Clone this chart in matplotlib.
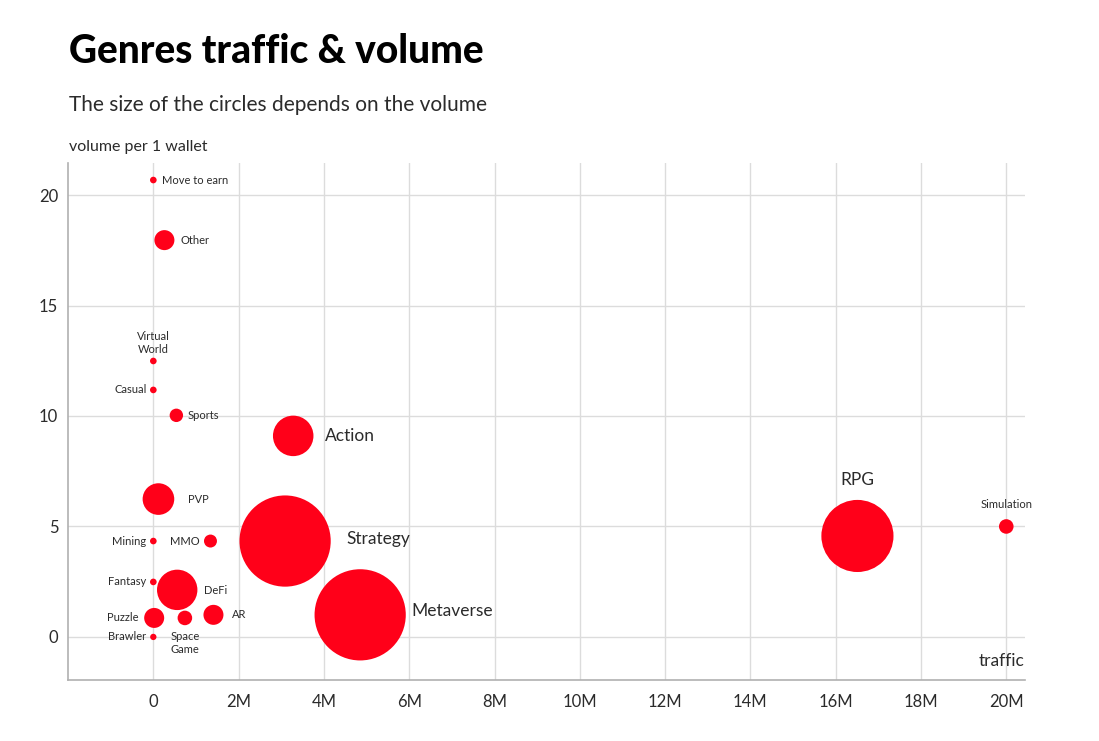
import matplotlib
matplotlib.use("Agg")
import matplotlib.pyplot as plt
from matplotlib.ticker import FuncFormatter

plt.rcParams['font.family'] = ['Lato', 'DejaVu Sans']

# genre data: traffic (wallets), volume per 1 wallet, relative total volume (bubble area)
genres = ["Move to earn", "Other", "Virtual\nWorld", "Casual", "Sports", "Action",
          "PVP", "Mining", "MMO", "Strategy", "Fantasy", "DeFi", "Puzzle",
          "Space\nGame", "AR", "Brawler", "Metaverse", "RPG", "Simulation"]
traffic = [0.0, 0.26e6, 0.0, 0.0, 0.54e6, 3.28e6,
           0.12e6, 0.0, 1.34e6, 3.09e6, 0.0, 0.56e6, 0.02e6,
           0.74e6, 1.41e6, 0.0, 4.85e6, 16.51e6, 20.0e6]
vol_per_wallet = [20.68, 17.96, 12.49, 11.18, 10.03, 9.1,
                  6.24, 4.34, 4.34, 4.34, 2.49, 2.13, 0.86,
                  0.86, 1.0, 0.0, 1.0, 4.57, 5.0]
volume = [1.1, 10.0, 1.1, 1.1, 4.5, 41.0,
          25.0, 1.1, 4.2, 208.0, 1.1, 40.8, 10.0,
          5.3, 10.0, 1.0, 208.0, 130.0, 5.3]

# label placement: offset in points, alignment, size
label_style = {
    "Move to earn": ((6.5, 0), "left", 8),
    "Other": ((11.5, 0), "left", 8),
    "Virtual\nWorld": ((0, 13), "center", 8),
    "Casual": ((-4.5, 0), "right", 8),
    "Sports": ((8, 0), "left", 8),
    "Action": ((23, 0), "left", 12.5),
    "PVP": ((21.5, 0), "left", 8),
    "Mining": ((-5, 0), "right", 8),
    "MMO": ((-8, 0), "right", 8),
    "Strategy": ((44, 1.5), "left", 12.5),
    "Fantasy": ((-5, 0), "right", 8),
    "DeFi": ((19, -0.5), "left", 8),
    "Puzzle": ((-11.5, 0), "right", 8),
    "Space\nGame": ((-10.5, -18), "left", 8),
    "AR": ((13, 0), "left", 8),
    "Brawler": ((-5, 0), "right", 8),
    "Metaverse": ((37, 3), "left", 12.5),
    "RPG": ((0, 40), "center", 12.5),
    "Simulation": ((0, 16), "center", 8),
}

red = "#ff0019"
ink = "#2b2b2b"
fig = plt.figure(figsize=(10.99, 7.41), dpi=100)
ax = fig.add_axes([0.0619, 0.0823, 0.8708, 0.6977])

sizes = [v * 20.74 for v in volume]
ax.scatter(traffic, vol_per_wallet, s=sizes, color=red, edgecolors="none", zorder=3)

for name, x, y in zip(genres, traffic, vol_per_wallet):
    off, ha, fs = label_style[name]
    ax.annotate(name, (x, y), xytext=off, textcoords="offset points",
                ha=ha, va="center", fontsize=fs, color=ink,
                linespacing=1.15, zorder=4)

ax.set_xlim(-2.0e6, 20.44e6)
ax.set_ylim(-1.95, 21.45)
ax.set_xticks([i * 2e6 for i in range(11)])
ax.set_yticks([0, 5, 10, 15, 20])
ax.xaxis.set_major_formatter(FuncFormatter(lambda v, p: "0" if v == 0 else f"{v/1e6:.0f}M"))
ax.grid(True, color="#dcdcdc", linewidth=1, zorder=0)
ax.tick_params(length=0, labelsize=12, colors=ink)
ax.tick_params(axis="x", pad=10)
ax.tick_params(axis="y", pad=7)
for side in ["top", "right"]:
    ax.spines[side].set_visible(False)
for side in ["left", "bottom"]:
    ax.spines[side].set_color("#b0b0b0")
    ax.spines[side].set_linewidth(1.2)

ax.text(0.999, 0.037, "traffic", transform=ax.transAxes, ha="right", va="center",
        fontsize=12.5, color=ink)

fig.text(0.0628, 0.930, "Genres traffic & volume", fontsize=28, fontweight="black",
         color="black", va="center")
fig.text(0.0628, 0.858, "The size of the circles depends on the volume", fontsize=15,
         color=ink, va="center")
fig.text(0.0628, 0.801, "volume per 1 wallet", fontsize=11.5, color=ink, va="center")

fig.savefig("out.png", dpi=100, facecolor="white")
